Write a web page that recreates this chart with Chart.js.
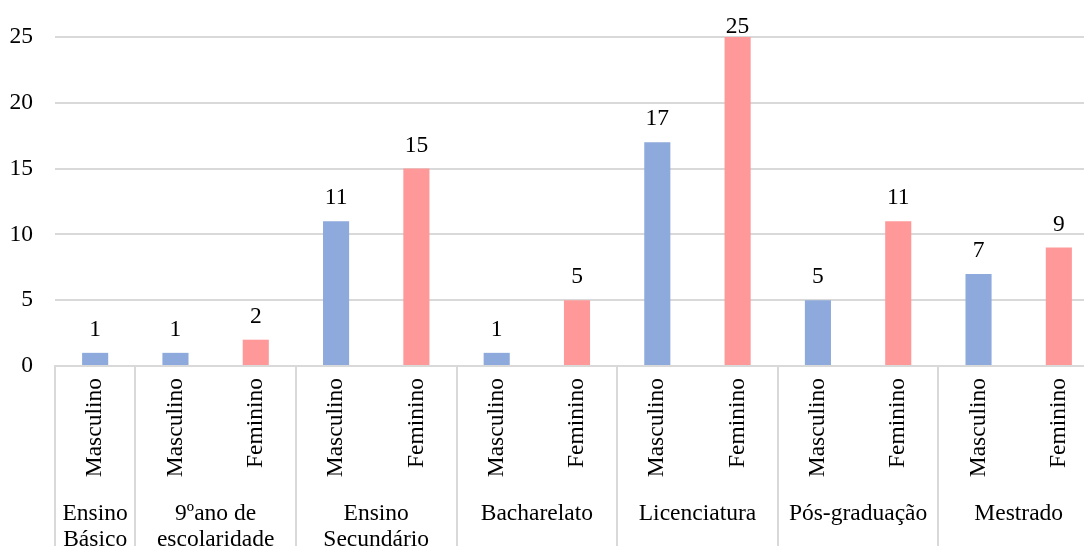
<!DOCTYPE html>
<html>
<head>
<meta charset="utf-8">
<script src="https://cdn.jsdelivr.net/npm/chart.js@4/dist/chart.umd.min.js"></script>
<style>
  html, body { margin: 0; padding: 0; background: #fff; overflow: hidden; }
  #wrap { width: 1110px; height: 560px; }
</style>
</head>
<body>
<div id="wrap"><canvas id="chart" width="1110" height="560"></canvas></div>
<script>
// Respondents by education level and sex
const categories = ['Masculino', 'Masculino', 'Feminino', 'Masculino', 'Feminino',
  'Masculino', 'Feminino', 'Masculino', 'Feminino', 'Masculino', 'Feminino',
  'Masculino', 'Feminino'];
const values = [1, 1, 2, 11, 15, 1, 5, 17, 25, 5, 11, 7, 9];
const groupNames = [['Ensino', 'Básico'], ['9ºano de', 'escolaridade'], ['Ensino', 'Secundário'],
  ['Bacharelato'], ['Licenciatura'], ['Pós-graduação'], ['Mestrado']];
const groupSizes = [1, 2, 2, 2, 2, 2, 2];
const yTicks = [0, 5, 10, 15, 20, 25];

const BLUE = '#8ea9db';
const PINK = '#ff9999';
const GRID = '#d9d9d9';
const FONT = { family: '"Liberation Serif", "Times New Roman", "DejaVu Serif", serif', size: 23.5 };
const FONT_CSS = FONT.size + 'px ' + FONT.family;
const TEXT = '#000';

// Value labels above each bar, kept inside the canvas top margin
const valueLabels = {
  id: 'valueLabels',
  afterDatasetsDraw(chart) {
    const ctx = chart.ctx;
    const meta = chart.getDatasetMeta(0);
    ctx.save();
    ctx.font = FONT_CSS;
    ctx.fillStyle = TEXT;
    ctx.textAlign = 'center';
    ctx.textBaseline = 'alphabetic';
    meta.data.forEach((bar, i) => {
      const y = Math.max(bar.y - 17, 33);
      ctx.fillText(String(values[i]), bar.x, y);
    });
    ctx.restore();
  }
};

// Second category level: group separators and group names under the axis
const groupAxis = {
  id: 'groupAxis',
  afterDraw(chart) {
    const ctx = chart.ctx;
    const x = chart.scales.x;
    const top = x.top;
    const bottom = chart.height;
    ctx.save();
    ctx.strokeStyle = GRID;
    ctx.lineWidth = 2;
    let start = 0;
    const bounds = [0];
    groupSizes.forEach(n => { start += n; bounds.push(start); });
    bounds.forEach(b => {
      const px = Math.round(x.getPixelForValue(b - 0.5));
      ctx.beginPath();
      ctx.moveTo(px, top);
      ctx.lineTo(px, bottom);
      ctx.stroke();
    });
    ctx.font = FONT_CSS;
    ctx.fillStyle = TEXT;
    ctx.textAlign = 'center';
    ctx.textBaseline = 'alphabetic';
    groupNames.forEach((lines, g) => {
      const mid = (bounds[g] + bounds[g + 1]) / 2 - 0.5;
      const cx = x.getPixelForValue(mid);
      lines.forEach((line, k) => {
        ctx.fillText(line, cx, top + 154 + k * 26);
      });
    });
    ctx.restore();
  }
};

new Chart(document.getElementById('chart'), {
  type: 'bar',
  data: {
    labels: categories,
    datasets: [{
      data: values,
      backgroundColor: categories.map(c => c === 'Masculino' ? BLUE : PINK),
      borderWidth: 0,
      barPercentage: 0.325,
      categoryPercentage: 1
    }]
  },
  options: {
    responsive: false,
    animation: false,
    layout: { padding: { top: 37, left: 0, right: 11, bottom: 0 } },
    plugins: { legend: { display: false }, tooltip: { enabled: false } },
    scales: {
      x: {
        offset: true,
        grid: { display: false, drawTicks: false },
        border: { display: true, color: GRID, width: 2 },
        ticks: {
          font: FONT, color: TEXT, autoSkip: false,
          minRotation: 90, maxRotation: 90, padding: 12
        },
        afterFit(scale) { scale.height = 194; }
      },
      y: {
        min: 0, max: 25,
        afterBuildTicks(scale) { scale.ticks = yTicks.map(v => ({ value: v })); },
        grid: { color: GRID, lineWidth: 2, drawTicks: false },
        border: { display: false },
        ticks: { font: FONT, color: TEXT, padding: 22 },
        afterFit(scale) { scale.width = 55; }
      }
    }
  },
  plugins: [valueLabels, groupAxis]
});
</script>
</body>
</html>
